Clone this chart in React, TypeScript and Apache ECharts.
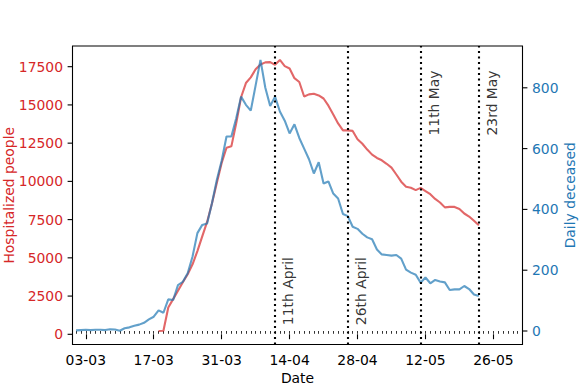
import React, { useEffect, useRef } from 'react';
import * as echarts from 'echarts';

// ---- data (year 2020) ----
const deceasedStart = '2020-03-01';
const dailyDeceased = [
  2, 3, 4, 3, 4, 4, 3, 6, 5, 1, 9, 12, 17, 21, 27, 38, 47, 68, 60, 104,
  102, 151, 162, 190, 245, 322, 349, 354, 420, 497, 560, 640, 640, 700, 771, 744,
  725, 808, 892, 800, 740, 771, 722, 692, 650, 680, 635, 600, 565, 518,
  555, 485, 492, 452, 436, 385, 378, 343, 336, 320, 308, 302, 268, 252,
  250, 248, 250, 238, 202, 192, 185, 159, 176, 157, 168, 163, 160, 135,
  137, 137, 148, 138, 120, 115,
];
const hospitalizedStart = '2020-03-18';
const hospitalized = [
  215, 230, 1750, 2300, 2850, 3400, 3930, 4580, 5440, 6400, 7350, 8550,
  9900, 11200, 12200, 12290, 13800, 15500, 16430, 16800, 17330, 17640,
  17780, 17800, 17620, 17940, 17540, 17380, 16750, 16500, 15550, 15690,
  15730, 15620, 15420, 14950, 14380, 13790, 13335, 13335, 13300, 12760,
  12460, 12080, 11750, 11530, 11380, 11150, 10900, 10450, 9980, 9650,
  9580, 9430, 9573, 9370, 9160, 8850, 8620, 8300, 8330, 8330, 8200,
  7900, 7700, 7420, 7130,
];
const xTickLabels = ['03-03', '17-03', '31-03', '14-04', '28-04', '12-05', '26-05'];
const leftTicks = [0, 2500, 5000, 7500, 10000, 12500, 15000, 17500];
const rightTicks = [0, 200, 400, 600, 800];
const eventDates = ['2020-04-11', '2020-04-26', '2020-05-11', '2020-05-23'];
const eventLabels = ['11th April', '26th April', '11th May', '23rd May'];

// ---- helpers ----
const DAY = 86400000;
const base = Date.UTC(2020, 2, 3);
const isoToDay = (iso: string) => {
  const [y, m, d] = iso.split('-').map(Number);
  return Math.round((Date.UTC(y, m - 1, d) - base) / DAY);
};
const ddmmToDay = (s: string) => {
  const [d, m] = s.split('-').map(Number);
  return Math.round((Date.UTC(2020, m - 1, d) - base) / DAY);
};
const dayToLabel = (v: number) => {
  const dt = new Date(base + Math.round(v) * DAY);
  const dd = String(dt.getUTCDate()).padStart(2, '0');
  const mm = String(dt.getUTCMonth() + 1).padStart(2, '0');
  return `${dd}-${mm}`;
};

const FONT = 'DejaVu Sans';
const FS = 13.9;
const RED = '#d62728';
const BLUE = '#1f77b4';
const TICK = 4.9;

export default function App() {
  const ref = useRef<HTMLDivElement>(null);
  useEffect(() => {
    if (!ref.current) return;
    const chart = echarts.init(ref.current, undefined, { renderer: 'svg' });
    const xMin = -2.74;
    const xMax = 90;
    const majorDays = xTickLabels.map(ddmmToDay);
    const minorDays: number[] = [];
    for (let d = Math.ceil(xMin); d <= Math.floor(xMax - 0.5); d++) minorDays.push(d);

    const deceasedData = dailyDeceased.map((v, i) => [isoToDay(deceasedStart) + i, v]);
    const hospData = hospitalized.map((v, i) => [isoToDay(hospitalizedStart) + i, v]);
    const eventDays = eventDates.map(isoToDay);

    const tickSeries = (yIdx: number, xEdge: number, ticks: number[], dir: number) => ({
      type: 'custom',
      xAxisIndex: 0,
      yAxisIndex: yIdx,
      silent: true,
      clip: false,
      z: 10,
      encode: { x: 0, y: 1 },
      data: ticks.map((v) => [xEdge, v]),
      renderItem: (_p: any, api: any) => {
        const pt = api.coord([api.value(0), api.value(1)]);
        return {
          type: 'line',
          shape: { x1: pt[0], y1: pt[1], x2: pt[0] + dir * TICK, y2: pt[1] },
          style: { stroke: '#000', lineWidth: 1.1 },
        };
      },
    });

    const option: any = {
      animation: false,
      backgroundColor: '#fff',
      textStyle: { fontFamily: FONT },
      grid: {
        left: 72.5,
        right: 58.5,
        top: 46,
        bottom: 43.5,
        containLabel: false,
        outerBoundsMode: 'none',
        show: true,
        borderColor: '#000',
        borderWidth: 1.1,
        backgroundColor: 'transparent',
      },
      xAxis: [
        {
          type: 'value',
          position: 'bottom',
          min: xMin,
          max: xMax,
          axisLine: { show: false },
          splitLine: { show: false },
          axisTick: {
            show: true,
            customValues: majorDays,
            length: TICK,
            lineStyle: { color: '#000', width: 1.1 },
          },
          axisLabel: {
            customValues: majorDays,
            formatter: (v: number) => dayToLabel(v),
            color: '#000',
            fontSize: FS,
            fontFamily: FONT,
            margin: 8,
          },
          name: 'Date',
          nameLocation: 'middle',
          nameGap: 26,
          nameMoveOverlap: false,
          nameTextStyle: { color: '#000', fontSize: FS, fontFamily: FONT },
        },
        {
          type: 'value',
          position: 'bottom',
          min: xMin,
          max: xMax,
          axisLine: { show: false },
          splitLine: { show: false },
          axisTick: {
            show: true,
            customValues: minorDays,
            length: 2.8,
            lineStyle: { color: '#000', width: 0.8 },
          },
          axisLabel: { show: false },
        },
      ],
      yAxis: [
        {
          type: 'value',
          position: 'left',
          min: -667,
          max: 18853,
          axisLine: { show: false },
          splitLine: { show: false },
          axisTick: { show: false },
          axisLabel: {
            customValues: leftTicks,
            formatter: (v: number) => String(v),
            color: RED,
            fontSize: FS,
            fontFamily: FONT,
            margin: 9.5,
          },
          name: 'Hospitalized people',
          nameLocation: 'middle',
          nameGap: 57,
          nameMoveOverlap: false,
          nameTextStyle: { color: RED, fontSize: FS, fontFamily: FONT },
        },
        {
          type: 'value',
          position: 'right',
          min: -44.4,
          max: 937.5,
          axisLine: { show: false },
          splitLine: { show: false },
          axisTick: { show: false },
          axisLabel: {
            customValues: rightTicks,
            formatter: (v: number) => String(v),
            color: BLUE,
            fontSize: FS,
            fontFamily: FONT,
            margin: 9.5,
          },
          name: 'Daily deceased',
          nameLocation: 'middle',
          nameGap: 40,
          nameMoveOverlap: false,
          nameTextStyle: { color: BLUE, fontSize: FS, fontFamily: FONT },
        },
      ],
      series: [
        {
          name: 'Hospitalized people',
          type: 'line',
          xAxisIndex: 0,
          yAxisIndex: 0,
          data: hospData,
          showSymbol: false,
          symbol: 'none',
          lineStyle: { color: 'rgba(214,39,40,0.7)', width: 2.1 },
          z: 2,
          markLine: {
            silent: true,
            symbol: ['none', 'none'],
            label: { show: false },
            lineStyle: { color: '#000', type: [2.1, 3.4], width: 2.1, cap: 'butt' },
            data: eventDays.map((d) => ({ xAxis: d })),
          },
        },
        {
          name: 'Daily deceased',
          type: 'line',
          xAxisIndex: 0,
          yAxisIndex: 1,
          data: deceasedData,
          showSymbol: false,
          symbol: 'none',
          lineStyle: { color: 'rgba(31,119,180,0.7)', width: 2.1 },
          z: 3,
        },
        {
          name: 'events',
          type: 'scatter',
          xAxisIndex: 0,
          yAxisIndex: 0,
          symbolSize: 0,
          silent: true,
          itemStyle: { color: 'rgba(0,0,0,0)' },
          data: eventDays.map((d, i) => [d, i < 2 ? 600 : 13000, eventLabels[i]]),
          label: {
            show: true,
            formatter: (p: any) => p.value[2],
            position: [6, 0],
            rotate: 90,
            align: 'left',
            verticalAlign: 'top',
            color: '#000',
            fontSize: FS,
            fontFamily: FONT,
          },
          z: 4,
        },
        tickSeries(0, xMin, leftTicks, -1),
        tickSeries(1, xMax, rightTicks, 1),
      ],
    };
    chart.setOption(option);
    return () => chart.dispose();
  }, []);
  return (
    <div
      ref={ref}
      style={{ position: 'fixed', left: 0, top: 0, width: 581, height: 388, background: '#fff' }}
    />
  );
}
